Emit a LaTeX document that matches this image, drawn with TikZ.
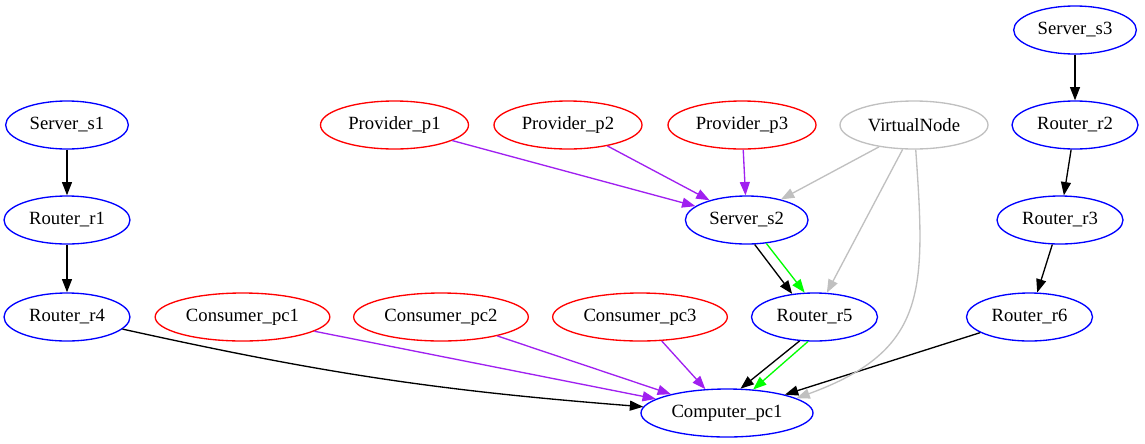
\documentclass[tikz,border=0pt]{standalone}
\usepackage{fontspec}
\setmainfont{Liberation Serif}
\usetikzlibrary{shapes.geometric,arrows.meta}
\definecolor{gvblue}{HTML}{0000FF}
\definecolor{gvred}{HTML}{FF0000}
\definecolor{gvgray}{HTML}{C0C0C0}
\definecolor{gvpurple}{HTML}{A020F0}
\definecolor{gvgreen}{HTML}{00FF00}
\tikzset{
  box/.style={ellipse,draw,line width=1bp,inner sep=0pt,minimum height=36bp,
    font=\fontsize{14bp}{16bp}\selectfont},
  bluebox/.style={box,draw=gvblue},
  redbox/.style={box,draw=gvred},
  graybox/.style={box,draw=gvgray},
  link/.style={line width=1bp,-{Triangle[length=10bp,width=7.5bp]}}
}

\begin{document}
\begin{tikzpicture}[x=0.75bp,y=0.75bp]
    \useasboundingbox (0,0) rectangle (1145,-443);
    % left column
    \node[bluebox,minimum width=92bp] (s1) at (67,-125) {Server\_s1};
    \node[bluebox,minimum width=94.5bp] (r1) at (67,-220) {Router\_r1};
    \node[bluebox,minimum width=94.5bp] (r4) at (67,-317) {Router\_r4};
    % providers and virtual node
    \node[redbox,minimum width=111bp] (p1) at (394.5,-125) {Provider\_p1};
    \node[redbox,minimum width=111bp] (p2) at (568,-125) {Provider\_p2};
    \node[redbox,minimum width=111bp] (p3) at (742,-125) {Provider\_p3};
    \node[graybox,minimum width=111bp] (vn) at (914,-125) {VirtualNode};
    % right column
    \node[bluebox,minimum width=92bp] (s3) at (1075,-30) {Server\_s3};
    \node[bluebox,minimum width=94.5bp] (r2) at (1075,-125) {Router\_r2};
    \node[bluebox,minimum width=94.5bp] (r3) at (1060,-220) {Router\_r3};
    \node[bluebox,minimum width=94.5bp] (r6) at (1029.5,-317) {Router\_r6};
    % middle
    \node[bluebox,minimum width=92bp] (s2) at (746.7,-220) {Server\_s2};
    \node[bluebox,minimum width=94.5bp] (r5) at (814.5,-317) {Router\_r5};
    \node[redbox,minimum width=131bp] (cpc1) at (242.5,-317) {Consumer\_pc1};
    \node[redbox,minimum width=131bp] (cpc2) at (441,-317) {Consumer\_pc2};
    \node[redbox,minimum width=131bp] (cpc3) at (640,-317) {Consumer\_pc3};
    \node[bluebox,minimum width=129bp] (pc1) at (727,-413) {Computer\_pc1};
    % black links
    \draw[link] (s1) -- (r1);
    \draw[link] (r1) -- (r4);
    \draw[link] (s3) -- (r2);
    \draw[link] (r2) -- (r3);
    \draw[link] (r3) -- (r6);
    \draw[link] (r4) to[bend right=4] (pc1);
    \draw[link] (r6) -- (pc1);
    \draw[link] (s2.-72) -- (r5.134);
    \draw[link] (r5.-122) -- (pc1.61);
    % green links
    \draw[link,gvgreen] (s2.-50) -- (r5.112);
    \draw[link,gvgreen] (r5.-105) -- (pc1.42);
    % purple links
    \draw[link,gvpurple] (p1) -- (s2);
    \draw[link,gvpurple] (p2) -- (s2);
    \draw[link,gvpurple] (p3) -- (s2);
    \draw[link,gvpurple] (cpc1) -- (pc1);
    \draw[link,gvpurple] (cpc2) -- (pc1);
    \draw[link,gvpurple] (cpc3) -- (pc1);
    % gray links
    \draw[link,gvgray] (vn.-148) -- (s2.31);
    \draw[link,gvgray] (vn.-115) -- (r5.63);
    \draw[link,gvgray] (vn.-86) to[out=-86,in=20,looseness=1.3] (pc1.12);
\end{tikzpicture}
\end{document}
